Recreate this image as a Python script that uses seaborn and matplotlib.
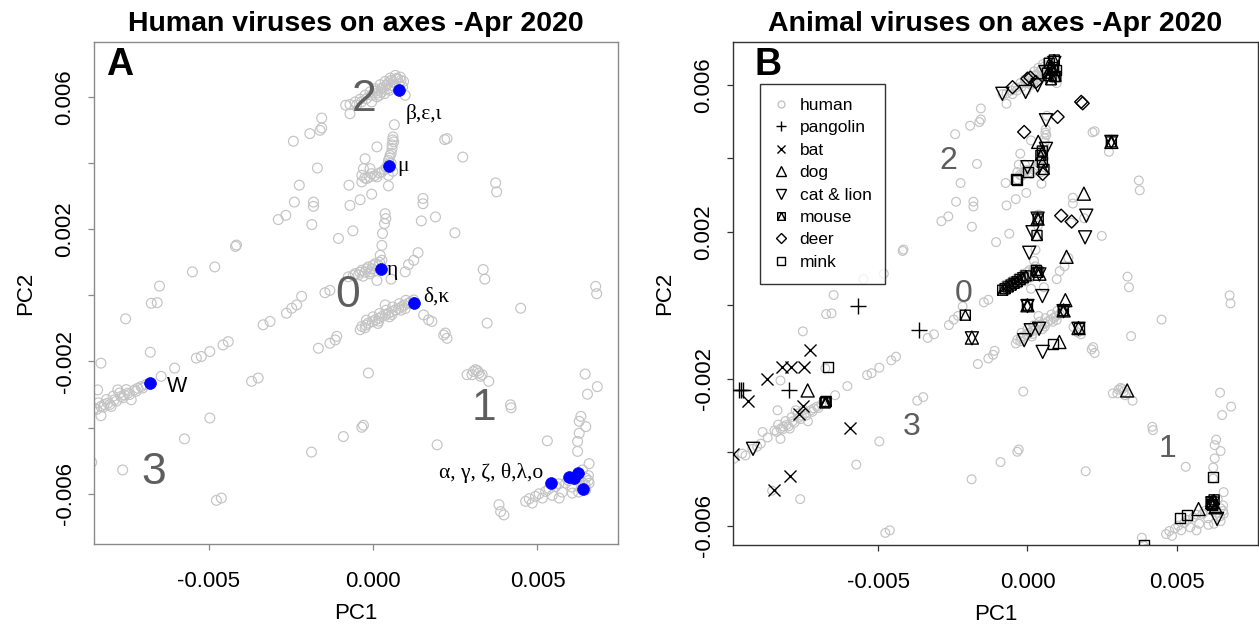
import numpy as np
import matplotlib
matplotlib.use("Agg")
import matplotlib.pyplot as plt
import seaborn as sns
from matplotlib.path import Path
from matplotlib.lines import Line2D

sns.set_theme(style="white")
plt.rcParams['font.family'] = ['Liberation Sans', 'DejaVu Sans']
plt.rcParams['text.color'] = 'black'
plt.rcParams['axes.labelcolor'] = 'black'
plt.rcParams['xtick.color'] = 'black'
plt.rcParams['ytick.color'] = 'black'

# Principal-component scores, in units of 1e-3
human_pc1 = [
    0.68, 0.83, 0.52, 0.37, 0.22, 0.07, -0.09, -0.24, -0.39, -0.54, -0.70, -0.83, -0.70, 0.27, 0.47, 0.57,
    0.98, 0.93, 0.12, -0.04, 0.75, 0.60, 0.45, 0.30, 0.15,
    0.70, 0.85, 0.55, 0.40, 0.25, 0.10, -0.05, -0.20, -0.35, 0.80, 0.65, 0.50, 0.35, 0.20, -0.50, 0.90,
    0.65, -1.56, -1.56, -1.61, -1.92, -2.42, 2.18, 2.25, 2.73, -1.69, -2.24, 3.73, 3.76, -2.39, -1.81, -1.81,
    -0.73, -0.70, -0.39, -0.04, 1.52, 1.52, 1.47, 1.90, 2.49, -2.88, -2.65, -1.86, -1.05, -0.61, -4.18, -4.15,
    -5.49, -4.81, -6.49, 3.35, 3.40, 6.77, 6.80,
    0.61, 0.63, 0.58, 0.52, 0.47, 0.12, -0.24, -0.29, -0.34, -0.19, -0.04, 0.12, 0.27, 0.47, 0.47, -0.34,
    -0.09, 0.55, 0.40, 0.60,
    0.50, 0.55, 0.45, 0.35, 0.20, 0.05, -0.10, -0.25, 0.58, 0.60,
    0.37, 0.39, 0.35, 0.29, 0.27, 0.22,
    0.27, 0.07, -0.14, -0.34, -0.54, -0.75, 0.12, 0.55, 1.08, 1.24, 1.37, 0.98, -1.31, -1.46, -0.09, 0.17,
    -0.04, -0.24, -0.44,
    0.20, 0.00, -0.20, -0.40, -0.60, 0.10, -0.10, -0.30,
    -6.74, -6.56, -7.52, -2.17, -2.32, -2.47, -2.63, -3.13, -3.34, -4.40, -4.56, -4.96, -5.22, -5.37, -6.03,
    -6.44, -6.77, -8.27, -4.96, -5.73, -7.61, -4.76, -4.61, -3.49, -3.69, -1.87, -0.90, -0.34, -0.29, -0.14,
    -1.66, -1.31, -1.15, -1.10, -8.55,
    -8.47, -8.27, -8.06, -7.86, -7.66, -7.45, -7.25, -7.05, -8.27, -7.76, -8.37, -7.35, -7.96, -8.17, -7.56,
    -7.15, -6.90,
    -8.40, -8.20, -8.00, -7.80, -7.60, -7.40, -7.20, -7.00, -8.35, -8.10, -7.90, -7.70, -7.50,
    -9.83, -9.55, -9.21, -8.93, -8.87, -9.44, -8.70, -9.05,
    1.24, 1.08, 0.88, 0.68, 0.47, 0.27, 0.07, -0.14, -0.34, 0.37, 1.54, 1.69, 1.79, 2.20, 2.25, 2.15, 3.47,
    4.49, -0.39, 0.98, 0.58, 0.17, -0.24,
    1.15, 0.95, 0.78, 0.58, 0.38, 0.18, -0.02, -0.22, 1.00, 0.80, 0.60, 0.40, 0.20, 0.00, -0.20, 0.85,
    0.50, 0.15,
    3.12, 3.22, 3.32, 3.01, 2.86, 3.52, 4.18, 4.20, 1.95, 5.30, 6.45, 6.82, 6.52, 6.32, 6.27, 6.47, 6.27,
    6.22, 6.22, 6.57, 4.64, 4.94, 5.25, 5.55, 5.86, 6.16, 6.47, 6.57, 5.66, 6.06, 6.37, 4.84, 5.15, 6.47,
    3.83, 3.88, 3.98,
    3.05, 3.18, 3.27,
    4.75, 5.05, 5.35, 5.65, 5.95, 6.25, 6.55, 6.35, 6.05, 5.75, 5.45, 6.45, 6.25, 6.55,
]
human_pc2 = [
    6.65, 6.60, 6.57, 6.47, 6.37, 6.25, 6.15, 6.05, 5.93, 5.85, 5.77, 5.75, 5.49, 6.15, 6.25, 6.35,
    6.05, 6.47, 6.00, 5.85, 6.55, 6.45, 6.40, 6.28, 6.12,
    6.55, 6.50, 6.50, 6.35, 6.25, 6.18, 6.05, 5.95, 5.85, 6.40, 6.30, 6.20, 6.10, 6.05, 5.75, 6.30,
    5.16, 5.36, 5.06, 4.99, 4.89, 4.66, 4.71, 4.74, 4.18, 3.85, 3.33, 3.40, 3.13, 2.82, 2.82, 2.69,
    3.33, 2.72, 2.89, 3.06, 2.93, 2.77, 2.25, 2.37, 1.89, 2.29, 2.42, 2.14, 1.72, 1.95, 1.48, 1.52,
    0.71, 0.86, 0.28, 0.78, 0.49, 0.27, 0.05,
    4.79, 4.64, 4.44, 4.23, 4.08, 4.49, 4.13, 3.83, 3.63, 3.53, 3.68, 3.58, 3.73, 3.63, 3.31, 3.43,
    3.83, 4.00, 3.85, 3.75,
    4.15, 4.30, 3.95, 3.80, 3.70, 3.62, 3.58, 3.55, 4.55, 4.70,
    2.47, 2.32, 2.17, 1.87, 1.51, 1.21,
    1.06, 0.96, 0.86, 0.76, 0.66, 0.56, 0.45, 0.49, 0.93, 1.06, 1.29, 0.71, 0.15, 0.08, 0.71, 0.90,
    0.80, 0.70, 0.62,
    1.00, 0.90, 0.80, 0.70, 0.60, 0.75, 0.65, 0.58,
    -0.24, -0.22, -0.71, -0.03, -0.29, -0.39, -0.54, -0.79, -0.89, -1.40, -1.50, -1.70, -1.85, -1.90, -2.20,
    -2.45, -1.72, -2.05, -3.71, -4.34, -5.28, -6.20, -6.13, -2.50, -2.60, -4.74, -4.27, -3.99, -3.93, -2.35,
    -1.60, -1.45, -1.35, -1.24, -5.05,
    -3.41, -3.36, -3.26, -3.16, -3.06, -2.96, -2.86, -2.76, -3.64, -2.86, -2.86, -3.16, -3.36, -3.30, -3.01,
    -2.81, -2.70,
    -3.45, -3.38, -3.30, -3.20, -3.10, -3.00, -2.90, -2.80, -3.25, -3.15, -3.05, -2.95, -2.85,
    -4.18, -4.04, -3.91, -3.77, -3.45, -4.09, -3.60, -3.85,
    -0.14, -0.24, -0.34, -0.44, -0.54, -0.64, -0.74, -0.84, -0.94, -0.29, -0.59, -0.74, -0.79, -1.14, -1.30,
    -1.20, -0.84, -0.39, -1.04, -0.40, -0.58, -0.78, -0.98,
    -0.20, -0.30, -0.40, -0.50, -0.60, -0.70, -0.80, -0.90, -0.15, -0.25, -0.35, -0.45, -0.55, -0.65,
    -0.75, -0.45, -0.65, -0.85,
    -2.25, -2.35, -2.40, -2.40, -2.40, -2.60, -3.31, -3.40, -4.52, -4.40, -2.38, -2.76, -2.99, -3.66, -3.81,
    -3.97, -4.17, -4.42, -4.72, -5.09, -6.23, -6.08, -5.93, -5.78, -5.68, -5.58, -5.53, -5.68, -6.13, -5.98,
    -5.28, -6.28, -6.13, -5.88, -6.33, -6.54, -6.64,
    -2.30, -2.28, -2.45,
    -6.15, -6.00, -5.85, -5.70, -5.60, -5.50, -5.45, -5.65, -5.80, -5.95, -6.05, -5.75, -5.95, -5.60,
]

# Reference human variants highlighted in panel A
variant_pc1 = [-6.77, 0.78, 0.50, 0.25, 1.24, 5.40, 5.96, 6.22, 6.11, 6.37]
variant_pc2 = [-2.66, 6.20, 3.91, 0.81, -0.22, -5.68, -5.48, -5.38, -5.53, -5.86]
variant_labels = ["W", "β,ε,ι", "μ", "η", "δ,κ", "α, γ, ζ, θ,λ,ο"]
variant_label_x = [-6.28, 0.98, 0.73, 0.40, 1.54, 2.00]
variant_label_y = [-2.91, 5.34, 3.75, 0.61, -0.19, -5.53]

# Animal hosts in panel B
pangolin_pc1 = [-5.67, -3.62, -7.98, -9.66, -9.60, -9.52]
pangolin_pc2 = [-0.02, -0.66, -2.32, -2.32, -2.32, -2.30]
bat_pc1 = [-7.27, -8.71, -8.22, -7.92, -7.47, -9.35, -7.53, -7.64, -5.93, -7.94, -8.50, -9.85]
bat_pc2 = [-1.21, -2.00, -1.68, -1.68, -1.68, -2.62, -2.74, -2.97, -3.34, -4.65, -5.04, -4.05]
dog_pc1 = [-7.36, 3.34, 0.36, 1.89, 1.31, 1.27, 1.07, 2.81, 0.34, -1.86, 1.71, 1.21, 0.00, 0.40,
           5.73, 6.18, 6.30, 0.80, 0.75]
dog_pc2 = [-2.32, -2.32, 4.45, 3.04, 1.32, 0.14, -1.00, 4.45, 2.36, -0.88, -0.62, -0.14, 0.00, 0.86,
           -5.55, -5.36, -5.50, 6.50, 6.30]
cat_pc1 = [-9.19, -0.84, -0.06, 0.34, 0.62, 0.62, 0.00, 0.17, 0.06, 1.97, 1.93, -0.11, 0.11, 0.39,
           0.51, 2.81, 0.50, 0.34, -1.86, 1.71, 1.21, 0.00, 0.40, 6.35, 6.20, 0.60, 0.90]
cat_pc2 = [-3.91, 5.76, 5.81, 5.99, 5.04, 4.26, 3.76, 1.99, 1.43, 2.44, 1.85, -0.95, -0.68, -0.64,
           -1.27, 4.45, 0.25, 2.36, -0.90, -0.64, -0.16, -0.02, 0.84, -5.82, -5.40, 6.35, 6.60]
mouse_pc1 = [-2.08, -6.76, -6.74, -6.78, 0.45, 0.50, 0.55, 0.50, 0.32, -0.83, -0.75, -0.65, -0.55,
             -0.45, -0.35, -0.25, -0.15, -0.05, 0.30, 0.35, 0.73, 0.84, 0.95, 0.67, 0.90, 0.79,
             6.15, 6.20, 6.25, 0.36, 1.20, 0.00, 2.81]
mouse_pc2 = [-0.27, -2.64, -2.62, -2.66, 4.08, 3.90, 3.70, 4.20, 1.90, 0.41, 0.45, 0.50, 0.55,
             0.60, 0.64, 0.70, 0.75, 0.80, 0.95, 0.90, 6.59, 6.41, 6.23, 6.32, 6.68, 6.14,
             -5.35, -5.45, -5.30, 2.35, -0.15, 0.00, 4.45]
deer_pc1 = [-0.50, 0.00, 0.28, 1.80, 1.85, 1.01, -0.11, 0.51, 1.13, 1.48, 0.10]
deer_pc2 = [5.94, 6.17, 6.08, 5.54, 5.50, 5.13, 4.72, 3.58, 2.44, 2.28, 6.20]
mink_pc1 = [-6.68, -0.36, -0.38, 0.02, 0.84, 1.71, 6.20, 5.11, 5.34, 3.91, 6.15, 0.85, 0.95, 0.90]
mink_pc2 = [-1.68, 3.40, 3.43, 3.63, -1.05, -0.62, -4.68, -5.80, -5.71, -6.52, -5.40, 6.50, 6.40, 6.25]

cluster_names = ["0", "1", "2", "3"]
cluster_a_x = [-0.77, 3.37, -0.26, -6.66]
cluster_a_y = [0.00, -3.43, 5.93, -5.35]
cluster_b_x = [-2.13, 4.69, -2.65, -3.87]
cluster_b_y = [0.31, -3.91, 3.94, -3.32]

x_ticks = [-0.005, 0.0, 0.005]
x_tick_labels = ["-0.005", "0.000", "0.005"]
y_ticks = [-0.006, -0.004, -0.002, 0.0, 0.002, 0.004, 0.006]
y_tick_labels = ["-0.006", "", "-0.002", "", "0.002", "", "0.006"]

SCALE = 1e-3


def sc(values):
    return np.asarray(values) * SCALE


# Square with an inscribed triangle
mouse_marker = Path(
    [(-1, -1), (1, -1), (1, 1), (-1, 1), (-1, -1), (-1, -1), (0, 1), (1, -1)],
    [Path.MOVETO, Path.LINETO, Path.LINETO, Path.LINETO, Path.CLOSEPOLY,
     Path.MOVETO, Path.LINETO, Path.LINETO],
)

GREY = "#c4c4c4"
LABEL_GREY = "#5e5e5e"

fig = plt.figure(figsize=(12.59, 6.29), dpi=100)
ax_a = fig.add_axes([0.0747, 0.1351, 0.4162, 0.7981])
ax_b = fig.add_axes([0.5822, 0.1335, 0.4170, 0.7997])


def style_axes(ax, spine_color, xlim, ylim):
    ax.set_xlim(*xlim)
    ax.set_ylim(*ylim)
    ax.set_xticks(x_ticks, x_tick_labels)
    ax.set_yticks(y_ticks, y_tick_labels)
    ax.tick_params(axis="both", labelsize=16, length=4.3, width=0.9, color=spine_color,
                   labelcolor="black", direction="out", bottom=True, left=True)
    ax.tick_params(axis="x", pad=15)
    ax.tick_params(axis="y", pad=9, labelrotation=90)
    for lab in ax.get_yticklabels():
        lab.set_va("center")
    for sp in ax.spines.values():
        sp.set_color(spine_color)
        sp.set_linewidth(1.0)
    ax.set_xlabel("PC1", fontsize=16, labelpad=8)
    ax.set_ylabel("PC2", fontsize=16, labelpad=13)
    ax.grid(False)


# Panel A: human viruses
sns.scatterplot(x=sc(human_pc1), y=sc(human_pc2), marker="o", s=50, facecolor="none",
                edgecolor=GREY, linewidth=0.85, ax=ax_a, zorder=2)
sns.scatterplot(x=sc(variant_pc1), y=sc(variant_pc2), marker="o", s=72, color="#0000ff",
                edgecolor="#0000ff", linewidth=0.5, ax=ax_a, zorder=3)
style_axes(ax_a, "#8a8a8a", (-8.48e-3, 7.45e-3), (-7.52e-3, 7.66e-3))
ax_a.set_title("Human viruses on axes -Apr 2020", fontsize=20.5, fontweight="bold", pad=8,
               color="black")
ax_a.text(0.023, 0.934, "A", transform=ax_a.transAxes, fontsize=27, fontweight="bold",
          va="baseline", ha="left", color="black")
for name, cx, cy in zip(cluster_names, cluster_a_x, cluster_a_y):
    ax_a.text(cx * SCALE, cy * SCALE, name, fontsize=32, color=LABEL_GREY, ha="center",
              va="center")
for lab, lx, ly in zip(variant_labels, variant_label_x, variant_label_y):
    family = ["Liberation Sans"] if lab == "W" else ["Liberation Serif", "DejaVu Serif"]
    ax_a.text(lx * SCALE, ly * SCALE, lab, fontsize=15.5, family=family, ha="left",
              va="baseline", color="black", zorder=4)

# Panel B: animal viruses
sns.scatterplot(x=sc(human_pc1), y=sc(human_pc2), marker="o", s=40, facecolor="none",
                edgecolor=GREY, linewidth=0.85, ax=ax_b, zorder=2)
lw = 1.0
sns.scatterplot(x=sc(pangolin_pc1), y=sc(pangolin_pc2), marker="+", s=120, color="black",
                linewidth=lw, ax=ax_b, zorder=3)
sns.scatterplot(x=sc(bat_pc1), y=sc(bat_pc2), marker="x", s=75, color="black",
                linewidth=lw, ax=ax_b, zorder=3)
sns.scatterplot(x=sc(dog_pc1), y=sc(dog_pc2), marker="^", s=88, facecolor="none",
                edgecolor="black", linewidth=lw, ax=ax_b, zorder=3)
sns.scatterplot(x=sc(cat_pc1), y=sc(cat_pc2), marker="v", s=88, facecolor="none",
                edgecolor="black", linewidth=lw, ax=ax_b, zorder=3)
sns.scatterplot(x=sc(mouse_pc1), y=sc(mouse_pc2), marker=mouse_marker, s=52, facecolor="none",
                edgecolor="black", linewidth=lw, ax=ax_b, zorder=3)
sns.scatterplot(x=sc(deer_pc1), y=sc(deer_pc2), marker="D", s=44, facecolor="none",
                edgecolor="black", linewidth=lw, ax=ax_b, zorder=3)
sns.scatterplot(x=sc(mink_pc1), y=sc(mink_pc2), marker="s", s=52, facecolor="none",
                edgecolor="black", linewidth=lw, ax=ax_b, zorder=3)
style_axes(ax_b, "#333333", (-9.86e-3, 7.72e-3), (-6.53e-3, 7.17e-3))
ax_b.set_title("Animal viruses on axes -Apr 2020", fontsize=20.5, fontweight="bold", pad=8,
               color="black")
ax_b.text(0.041, 0.934, "B", transform=ax_b.transAxes, fontsize=27, fontweight="bold",
          va="baseline", ha="left", color="black")
for name, cx, cy in zip(cluster_names, cluster_b_x, cluster_b_y):
    ax_b.text(cx * SCALE, cy * SCALE, name, fontsize=23, color=LABEL_GREY, ha="center",
              va="center")

legend_names = ["human", "pangolin", "bat", "dog", "cat & lion", "mouse", "deer", "mink"]
legend_markers = ["o", "+", "x", "^", "v", mouse_marker, "D", "s"]
legend_sizes = [5, 7, 5.5, 6.5, 6.5, 5.5, 4.8, 5.5]
handles = []
for name, mk, ms in zip(legend_names, legend_markers, legend_sizes):
    col = GREY if name == "human" else "black"
    handles.append(Line2D([], [], linestyle="", marker=mk, markersize=ms, markerfacecolor="none",
                          markeredgecolor=col, color=col, markeredgewidth=1.0))
leg = ax_b.legend(handles, legend_names, loc="upper left", bbox_to_anchor=(0.051, 0.917),
                  fontsize=12.5, frameon=True, fancybox=False, edgecolor="black",
                  labelspacing=0.42, handlelength=0.9, handletextpad=0.6, borderpad=0.8,
                  borderaxespad=0.0)
leg.get_frame().set_linewidth(1.0)
for t in leg.get_texts():
    t.set_color("black")

fig.savefig("out.png", dpi=100)
